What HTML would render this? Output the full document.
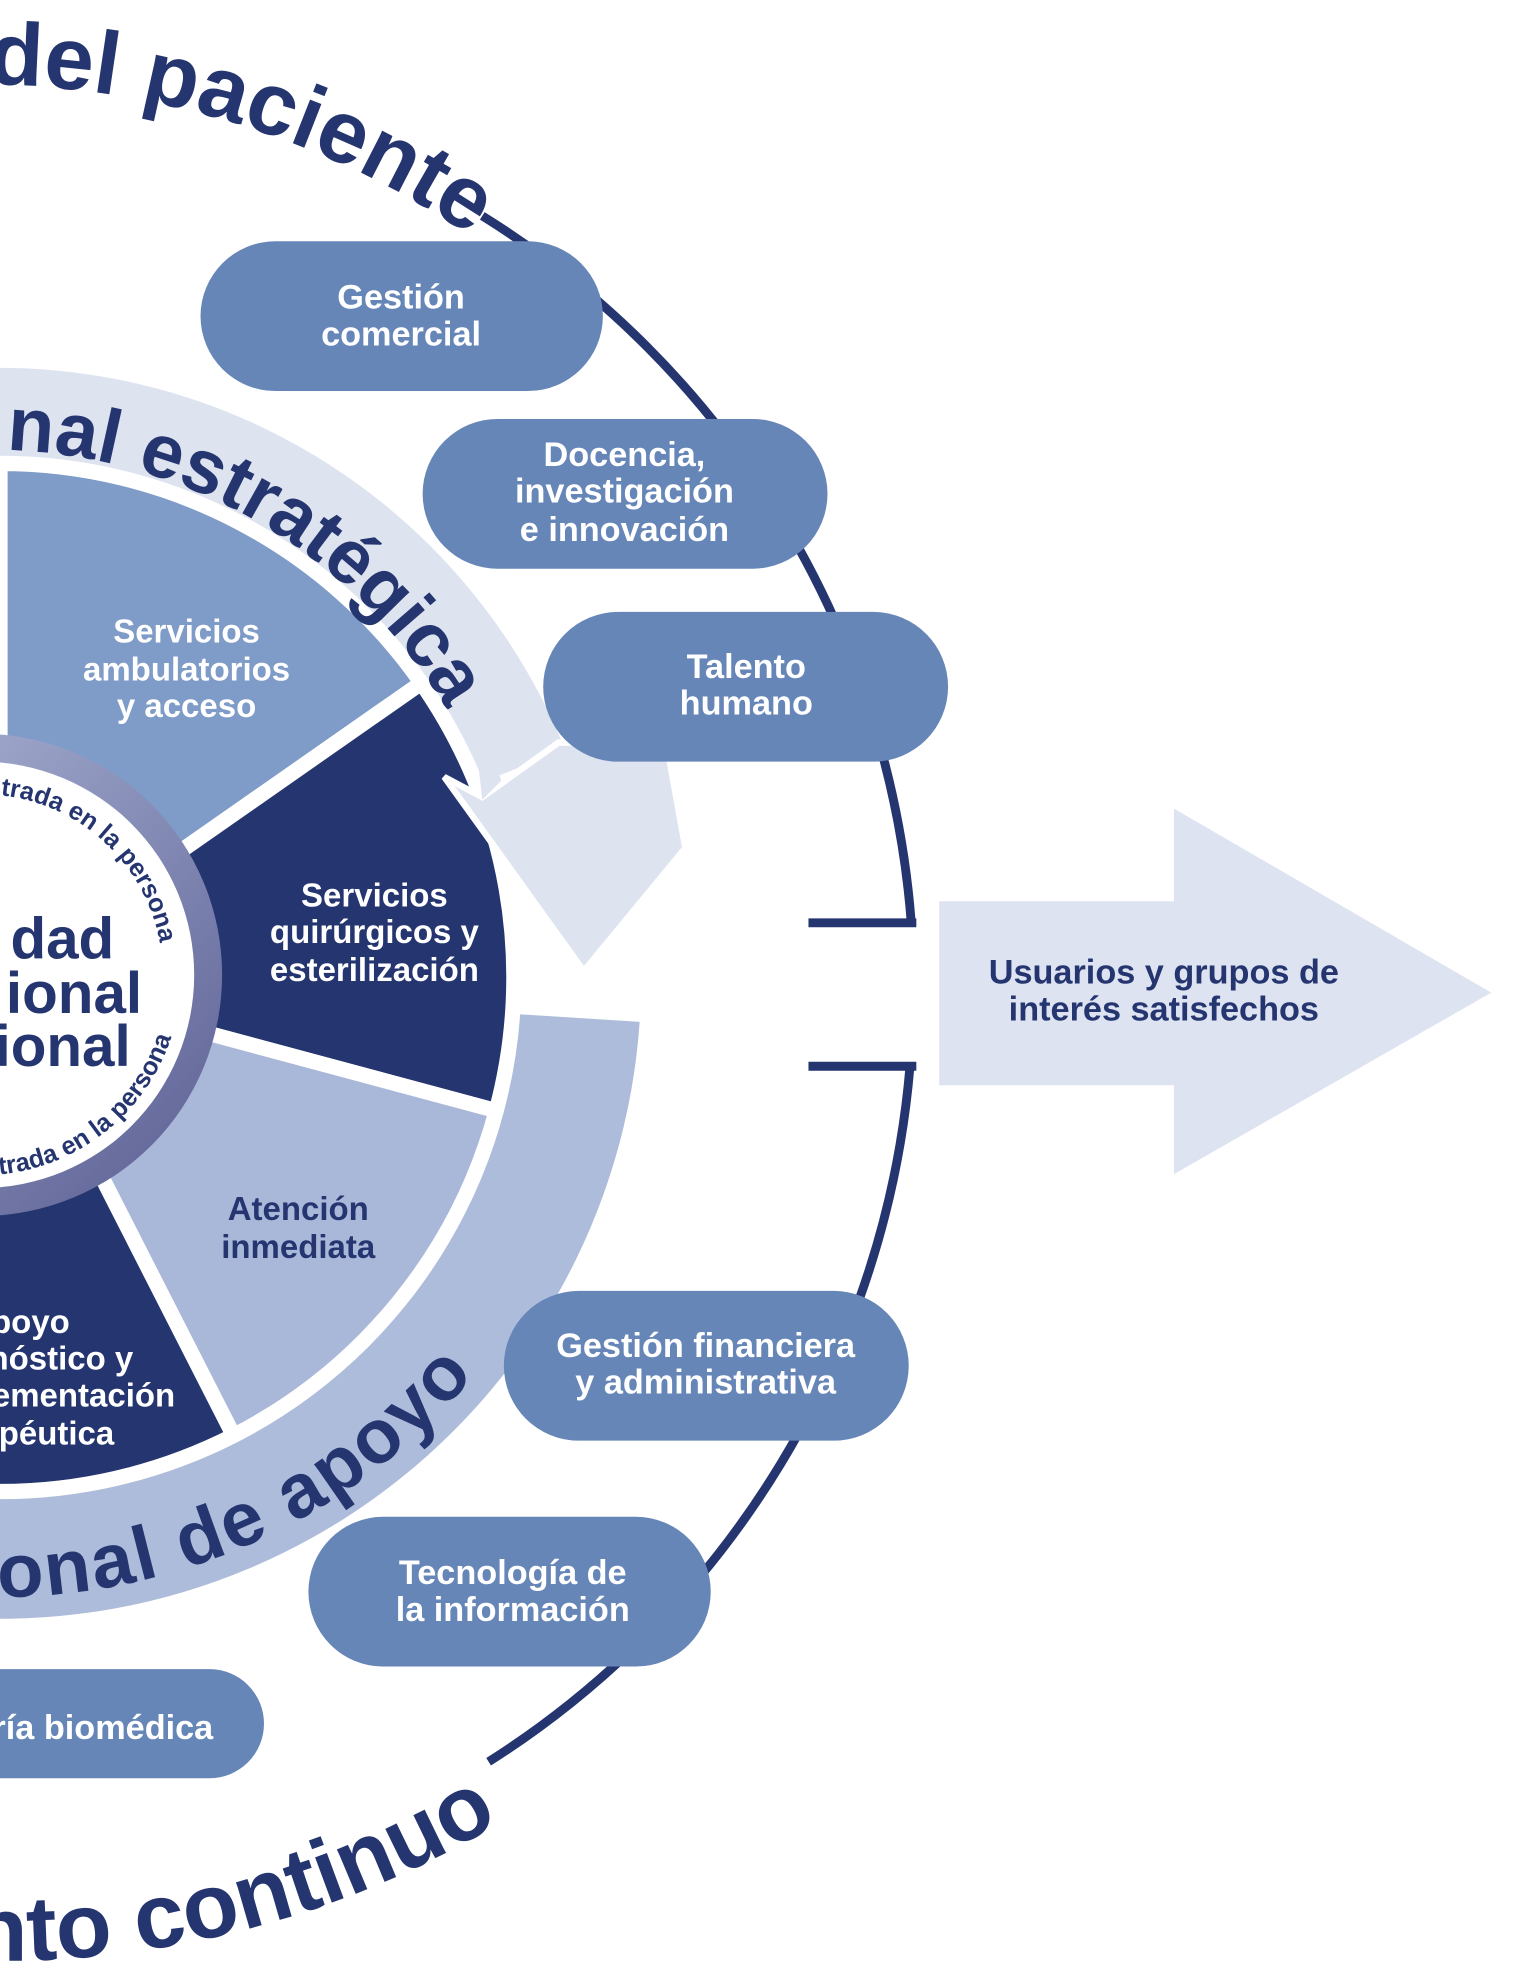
<!DOCTYPE html>
<html><head><meta charset="utf-8"><style>html,body{margin:0;padding:0;background:#fff}svg{display:block}text{font-family:"Liberation Sans",sans-serif;font-weight:bold}</style></head><body>
<svg width="1523" height="1984" viewBox="0 0 1200 1563" xmlns="http://www.w3.org/2000/svg">
<defs>
<path id="ptop" d="M -160 80 A 700 700 0 0 1 371 186"/>
<path id="pbot" d="M -323 1473 A 765 765 0 0 0 394 1436"/>
<path id="pstr" d="M -110 367 A 418 418 0 0 1 352 559"/>
<path id="papo" d="M -244 1193 A 488 488 0 0 0 375 1082"/>
<path id="pc1" d="M -139 698 A 143 143 0 0 1 126 743"/>
<path id="pc2" d="M -152 847 A 158 158 0 0 0 135 817"/>
<linearGradient id="rg" x1="0" y1="0" x2="1" y2="1"><stop offset="0" stop-color="#b3bddc"/><stop offset="1" stop-color="#5a5e92"/></linearGradient>
</defs>
<polygon points="740,710 925,710 925,637 1175,782 925,925 925,855 740,855" fill="#dde3f0"/>
<text x="917" y="775" font-size="27" fill="#253570" text-anchor="middle">Usuarios y grupos de</text>
<text x="917" y="804" font-size="27" fill="#253570" text-anchor="middle">interés satisfechos</text>
<path d="M 380 170 A 720 720 0 0 1 718 727" fill="none" stroke="#253570" stroke-width="7"/>
<path d="M 717 840 A 720 720 0 0 1 385 1388" fill="none" stroke="#253570" stroke-width="7"/>
<line x1="637" y1="727" x2="722" y2="727" stroke="#253570" stroke-width="7"/>
<line x1="637" y1="840" x2="722" y2="840" stroke="#253570" stroke-width="7"/>
<text font-size="70" fill="#253570"><textPath href="#ptop" startOffset="100%" text-anchor="end">del paciente</textPath></text>
<text font-size="72" fill="#253570"><textPath href="#pbot" startOffset="100%" text-anchor="end">nto continuo</textPath></text>
<path d="M -83 297 A 480 480 0 0 1 445 590 L 366 622 A 395 395 0 0 0 -69 381 Z" fill="#dde3ef"/>
<path d="M 504 805 A 505 505 0 0 1 -131 1258 L -106 1166 A 410 410 0 0 0 409 799 Z" fill="#aebcdb"/>
<g stroke="#fff" stroke-width="12" stroke-linejoin="round">
<path d="M 0 770 L 0 365 A 405 405 0 0 1 332 538 Z" fill="#7f9bc8"/>
<path d="M 0 770 L 332 538 A 405 405 0 0 1 391 875 Z" fill="#253570"/>
<path d="M 0 770 L 391 875 A 405 405 0 0 1 184 1131 Z" fill="#a9b8d9"/>
<path d="M 0 770 L 184 1131 A 405 405 0 0 1 -202 1121 Z" fill="#253570"/>
</g>
<polygon points="350,612 460,765 540,668 525,585 440,585 380,628" fill="#dde3ef" stroke="#fff" stroke-width="5" stroke-linejoin="miter"/>
<path d="M 372 560 A 400 400 0 0 1 395 615 L 380 630 Z" fill="#dde3ef"/>
<text font-size="60" fill="#253570"><textPath href="#pstr" startOffset="100%" text-anchor="end">nal estratégica</textPath></text>
<text font-size="60" fill="#253570" letter-spacing="2"><textPath href="#papo" startOffset="100%" text-anchor="end">onal de apoyo</textPath></text>
<circle cx="-15" cy="768" r="190" fill="url(#rg)"/>
<circle cx="-15" cy="768" r="168" fill="#fff"/>
<text font-size="20" fill="#253570"><textPath href="#pc1" startOffset="100%" text-anchor="end">Atención centrada en la persona</textPath></text>
<text font-size="20" fill="#253570"><textPath href="#pc2" startOffset="100%" text-anchor="end">Atención centrada en la persona</textPath></text>
<g font-size="46" fill="#253570" text-anchor="end">
<text x="90" y="755">dad</text><text x="112" y="798">ional</text><text x="103" y="840">ional</text>
</g>
<g font-size="26" text-anchor="middle" fill="#fff">
<text x="147" y="506">Servicios</text><text x="147" y="536">ambulatorios</text><text x="147" y="565">y acceso</text>
<text x="295" y="714">Servicios</text><text x="295" y="743">quirúrgicos y</text><text x="295" y="773">esterilización</text>
</g>
<g font-size="26" text-anchor="middle" fill="#253570">
<text x="235" y="961">Atención</text><text x="235" y="991">inmediata</text>
</g>
<g font-size="26" text-anchor="end" fill="#fff">
<text x="55" y="1050">Apoyo</text><text x="105" y="1079">diagnóstico y</text><text x="138" y="1108">complementación</text><text x="90" y="1138">terapéutica</text>
</g>
<g fill="#6686b8">
<rect x="158" y="190" width="317" height="118" rx="59"/>
<rect x="333" y="330" width="319" height="118" rx="59"/>
<rect x="428" y="482" width="319" height="118" rx="59"/>
<rect x="397" y="1017" width="319" height="118" rx="59"/>
<rect x="243" y="1195" width="317" height="118" rx="59"/>
<rect x="-120" y="1315" width="328" height="86" rx="43"/>
</g>
<g font-size="27" fill="#fff" text-anchor="middle">
<text x="316" y="243">Gestión</text><text x="316" y="272">comercial</text>
<text x="492" y="367">Docencia,</text><text x="492" y="396">investigación</text><text x="492" y="426">e innovación</text>
<text x="588" y="534">Talento</text><text x="588" y="563">humano</text>
<text x="556" y="1069">Gestión financiera</text><text x="556" y="1098">y administrativa</text>
<text x="404" y="1248">Tecnología de</text><text x="404" y="1277">la información</text>
<text x="168" y="1370" text-anchor="end">Ingeniería biomédica</text>
</g>
</svg>
</body></html>
